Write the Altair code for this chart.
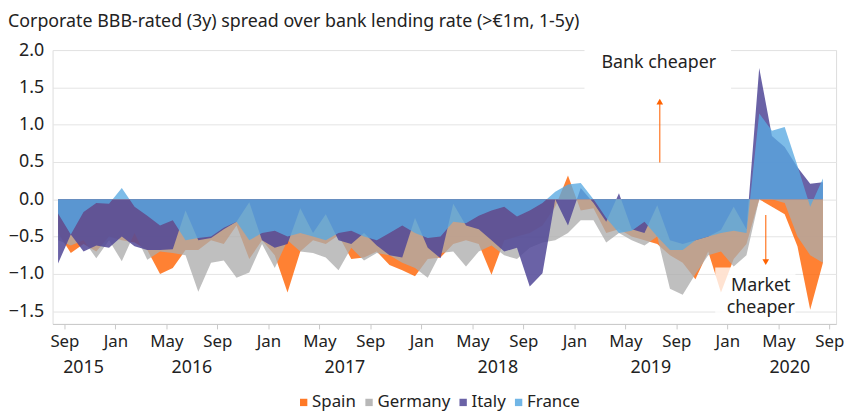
import altair as alt
import pandas as pd

FONT = "Noto Sans"
TXT = "#222222"

title_text = "Corporate BBB-rated (3y) spread over bank lending rate (>€1m, 1-5y)"
countries = ["Spain", "Germany", "Italy", "France"]
colors = ["#FF6200", "#ACACAC", "#504797", "#58A9E2"]
opacities = [0.8, 0.77, 0.85, 0.78]

# monthly observations, Aug 2015 .. Aug 2020
first_year, first_month, n_months = 2015, 8, 61

spain = [-0.45, -0.72, -0.60, -0.70, -0.50, -0.55, -0.58, -0.68, -1.00, -0.92,
         -0.68, -0.68, -0.55, -0.60, -0.35, -0.80, -0.55, -0.75, -1.25, -0.70,
         -0.55, -0.60, -0.48, -0.80, -0.78, -0.70, -0.88, -0.95, -1.03, -0.80,
         -0.78, -0.60, -0.55, -0.60, -1.01, -0.55, -0.50, -0.45, -0.35, -0.10,
         0.32, -0.15, -0.12, -0.45, -0.40, -0.50, -0.55, -0.60, -0.75, -0.85,
         -1.07, -0.70, -1.25, -0.80, -0.60, 0.00, -0.10, -0.20, -0.63, -1.48,
         -0.85]
germany = [-0.55, -0.62, -0.55, -0.79, -0.55, -0.83, -0.45, -0.81, -0.70, -0.72,
           -0.75, -1.24, -0.85, -0.82, -1.05, -0.98, -0.60, -0.92, -0.55, -0.70,
           -0.72, -0.78, -0.95, -0.65, -0.82, -0.72, -0.75, -0.85, -0.92, -1.05,
           -0.72, -0.70, -0.90, -0.70, -0.62, -0.75, -0.80, -0.65, -0.58, -0.55,
           -0.45, -0.28, -0.28, -0.58, -0.45, -0.55, -0.62, -0.50, -1.20, -1.28,
           -1.00, -0.75, -0.70, -0.90, -0.75, 0.00, 0.00, -0.05, -0.50, -0.75,
           -0.85]
italy = [-0.86, -0.47, -0.70, -0.62, -0.65, -0.50, -0.63, -0.68, -0.68, -0.67,
         -0.15, -0.55, -0.52, -0.40, -0.30, -0.04, -0.55, -0.65, -0.60, -0.12,
         -0.45, -0.20, -0.55, -0.60, -0.45, -0.62, -0.75, -0.78, -0.25, -0.65,
         -0.79, -0.06, -0.35, -0.40, -0.55, -0.70, -0.65, -1.17, -0.99, 0.00,
         -0.35, 0.15, -0.05, -0.30, 0.08, -0.40, -0.45, -0.08, -0.55, -0.60,
         -0.55, -0.50, -0.41, -0.10, -0.40, 1.76, 0.85, 0.70, 0.43, 0.21,
         0.23]
france = [-0.19, -0.47, -0.17, -0.05, -0.06, 0.15, -0.10, -0.22, -0.35, -0.28,
          -0.55, -0.52, -0.50, -0.38, -0.30, -0.55, -0.45, -0.42, -0.50, -0.45,
          -0.50, -0.55, -0.45, -0.42, -0.50, -0.55, -0.45, -0.35, -0.45, -0.52,
          -0.50, -0.30, -0.32, -0.22, -0.15, -0.10, -0.23, -0.15, -0.05, 0.10,
          0.20, 0.22, 0.00, -0.25, -0.45, -0.42, -0.30, -0.50, -0.68, -0.68,
          -0.55, -0.50, -0.45, -0.42, -0.45, 1.15, 0.92, 0.97, 0.45, -0.10,
          0.28]

# axis: month index counted from 1 Aug 2015 (tick = first day of month)
tick_values = [1, 5, 9, 13, 17, 21, 25, 29, 33, 37, 41, 45, 49, 53, 57, 61]
tick_months = ["Sep", "Jan", "May"]
year_labels = ["2015", "2016", "2017", "2018", "2019", "2020"]
year_centres = [2.5, 11, 23, 35, 47, 57.9]

# ---------------------------------------------------------------------------
m = [i + 0.5 for i in range(n_months)]  # mid-month position
rows = []
for name, vals in zip(countries, [spain, germany, italy, france]):
    for mi, v in zip(m, vals):
        rows.append({"m": mi, "country": name, "v": v})
long = pd.DataFrame(rows)

W, H = 791, 276.5
x_scale = alt.Scale(domain=[0.07, 61.53], nice=False, zero=False)
y_scale = alt.Scale(domain=[-1.67, 2.0], nice=False, zero=False)
color_scale = alt.Scale(domain=countries, range=colors)

label_expr = "['Sep','Jan','May'][((datum.value - 1) / 4) % 3]"
x_axis = alt.Axis(values=tick_values, labelExpr=label_expr, grid=False,
                  domainColor="#C8C8C8", tickColor="#C8C8C8", tickSize=5,
                  labelPadding=5, labelFontSize=17, labelFont=FONT,
                  labelColor=TXT, title=None, labelFlush=False)
y_axis = alt.Axis(values=[-1.5, -1.0, -0.5, 0.0, 0.5, 1.0, 1.5, 2.0], format=".1f",
                  grid=True, gridColor="#E4E4E4", gridWidth=1, domain=False,
                  ticks=False, labelPadding=9, labelFontSize=18, labelFont=FONT,
                  labelColor=TXT, title=None)
legend = alt.Legend(title=None, orient="none", legendX=245, legendY=347,
                    direction="horizontal", symbolType="square", symbolSize=55,
                    symbolOpacity=0.85, labelFontSize=17, labelFont=FONT,
                    labelColor=TXT, labelOffset=0, columnPadding=4,
                    symbolStrokeWidth=0)

layers = []
for name, op in zip(countries, opacities):
    layers.append(
        alt.Chart(long).transform_filter(alt.datum.country == name)
        .mark_area(opacity=op, interpolate="linear")
        .encode(
            x=alt.X("m:Q", scale=x_scale, axis=x_axis),
            y=alt.Y("v:Q", scale=y_scale, axis=y_axis),
            y2=alt.datum(0),
            color=alt.Color("country:N", scale=color_scale, legend=legend),
        )
    )

one = pd.DataFrame({"k": [0]})
ORANGE = "#FF6200"

# year labels under the month labels
years_df = pd.DataFrame({"pos": year_centres, "label": year_labels})
years = alt.Chart(years_df).mark_text(fontSize=18, font=FONT, color=TXT,
                                      baseline="middle", align="center").encode(
    x=alt.X("pos:Q", scale=x_scale), y=alt.value(321.5), text="label:N")

# title
title = alt.Chart(one).mark_text(fontSize=18, font=FONT, color=TXT, align="left",
                                 baseline="middle").encode(
    x=alt.value(-45), y=alt.value(-28.5), text=alt.value(title_text))

# "Bank cheaper" annotation
bank_box = alt.Chart(one).mark_rect(color="white").encode(
    x=alt.value(537), x2=alt.value(685), y=alt.value(-3), y2=alt.value(40))
bank_txt = alt.Chart(one).mark_text(fontSize=18, font=FONT, color=TXT).encode(
    x=alt.value(612), y=alt.value(13.5), text=alt.value("Bank cheaper"))
up_line = alt.Chart(one).mark_rule(color=ORANGE, strokeWidth=1.3, opacity=0.8).encode(
    x=alt.value(613), y=alt.value(113.5), y2=alt.value(53))
up_head = alt.Chart(one).mark_point(shape="triangle-up", filled=True, size=45,
                                    color=ORANGE, opacity=1).encode(
    x=alt.value(613), y=alt.value(52))

# "Market cheaper" annotation
mkt_box = alt.Chart(one).mark_rect(color="white", opacity=0.78).encode(
    x=alt.value(669), x2=alt.value(750), y=alt.value(219.5), y2=alt.value(272))
mkt_txt = alt.Chart(pd.DataFrame({"t": ["Market", "cheaper"], "yy": [238, 260]})).mark_text(
    fontSize=18, font=FONT, color=TXT).encode(
    x=alt.value(715), y=alt.Y("yy:Q", scale=None), text="t:N")
down_line = alt.Chart(one).mark_rule(color=ORANGE, strokeWidth=1.3, opacity=0.8).encode(
    x=alt.value(720), y=alt.value(166.5), y2=alt.value(212))
down_head = alt.Chart(one).mark_point(shape="triangle-down", filled=True, size=45,
                                      color=ORANGE, opacity=1).encode(
    x=alt.value(720), y=alt.value(214))

chart = alt.layer(*layers, years, title, bank_box, bank_txt, up_line, up_head,
                  mkt_box, mkt_txt, down_line, down_head).properties(
    width=W, height=H,
    autosize=alt.AutoSizeParams(type="none"),
    padding={"left": 45, "top": 40.5, "right": 8, "bottom": 92},
).configure_view(stroke=None).configure(background="white")

chart.save("out.html", embed_options={"renderer": "svg", "actions": False})
